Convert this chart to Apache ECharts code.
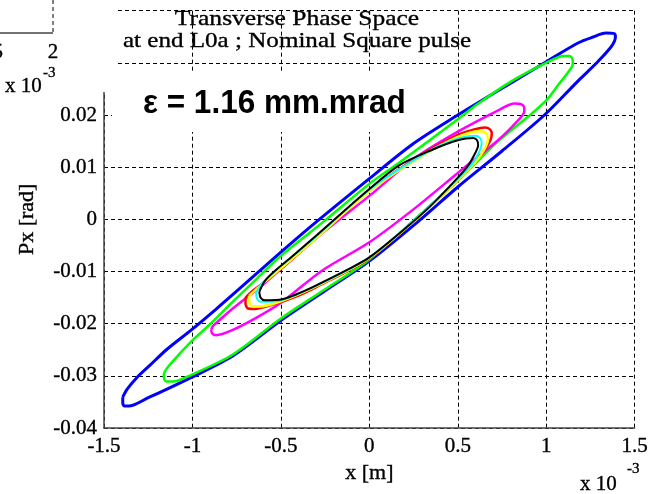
<!DOCTYPE html>
<html><head><meta charset="utf-8">
<script src="https://cdn.jsdelivr.net/npm/echarts@6/dist/echarts.min.js"></script>
<style>html,body{margin:0;padding:0;background:#fff}#c{width:651px;height:494px}</style>
</head><body><div id="c"></div>
<script>
// Axis ticks (x in units of 1e-3 m)
const xTicks = [-1.5, -1, -0.5, 0, 0.5, 1, 1.5];
const xTickLabels = ['-1.5', '-1', '-0.5', '0', '0.5', '1', '1.5'];
const yTicks = [-0.04, -0.03, -0.02, -0.01, 0, 0.01, 0.02, 0.03, 0.04];
const yTickLabels = ['-0.04', '-0.03', '-0.02', '-0.01', '0', '0.01', '0.02', '0.03', '0.04'];

// Closed phase-space contours [x (1e-3 m), Px (rad)]
const blueLoop = [[-1.394,-0.0341],[-1.394,-0.0352],[-1.385,-0.0358],[-1.36,-0.0358],[-1.25,-0.0342],[-1.147,-0.0326],[-1.006,-0.0303],[-0.772,-0.0262],[-0.5,-0.0194],[-0.25,-0.0137],[0,-0.008],[0.28,-0.0003],[0.5,0.0062],[0.75,0.0131],[0.99,0.0200],[1.179,0.0265],[1.291,0.0302],[1.365,0.0330],[1.385,0.0341],[1.391,0.0350],[1.385,0.0356],[1.338,0.0357],[1.26,0.0349],[1.179,0.0338],[1.0,0.0302],[0.804,0.0262],[0.616,0.0224],[0.5,0.0200],[0.244,0.0144],[0,0.0078],[-0.3,-0.0005],[-0.5,-0.0063],[-0.734,-0.0133],[-0.866,-0.0172],[-1.006,-0.0212],[-1.147,-0.025],[-1.241,-0.0280],[-1.316,-0.0304],[-1.37,-0.0326],[-1.394,-0.0341]];
const greenLoop = [[-1.162,-0.0296],[-1.16,-0.0306],[-1.145,-0.0311],[-1.11,-0.0311],[-1.006,-0.0298],[-0.772,-0.0259],[-0.5,-0.019],[-0.25,-0.0134],[0,-0.0077],[0.316,0.0018],[0.5,0.0074],[0.729,0.0150],[0.898,0.0197],[1.0,0.0228],[1.066,0.0257],[1.13,0.0285],[1.15,0.0298],[1.148,0.0308],[1.13,0.0313],[1.1,0.0313],[1.0,0.0300],[0.804,0.0265],[0.616,0.0222],[0.5,0.0192],[0.166,0.0108],[0,0.0068],[-0.25,-0.0002],[-0.5,-0.0070],[-0.64,-0.0115],[-0.772,-0.0158],[-0.903,-0.0202],[-1.006,-0.0234],[-1.1,-0.0268],[-1.145,-0.0286],[-1.162,-0.0296]];
const magentaLoop = [[-0.894,-0.0212],[-0.888,-0.0219],[-0.866,-0.0222],[-0.772,-0.0212],[-0.64,-0.0189],[-0.5,-0.016],[-0.266,-0.0098],[0,-0.0044],[0.26,0.0022],[0.5,0.0089],[0.729,0.0152],[0.85,0.0193],[0.876,0.0207],[0.874,0.0216],[0.855,0.0221],[0.82,0.0222],[0.729,0.0209],[0.5,0.0168],[0.26,0.0118],[0,0.0045],[-0.25,-0.0022],[-0.5,-0.0095],[-0.584,-0.0120],[-0.64,-0.0136],[-0.772,-0.0171],[-0.86,-0.0197],[-0.885,-0.0205],[-0.894,-0.0212]];
const redLoop = [[-0.70,-0.0150],[-0.70,-0.0162],[-0.685,-0.0171],[-0.65,-0.0172],[-0.55,-0.0164],[-0.4,-0.0146],[-0.3,-0.0130],[0,-0.0075],[0.3,0.0012],[0.5,0.0076],[0.6,0.0112],[0.655,0.0135],[0.685,0.0152],[0.692,0.0165],[0.68,0.0173],[0.654,0.0176],[0.58,0.0171],[0.5,0.0162],[0.3,0.0125],[0,0.0055],[-0.3,-0.0035],[-0.5,-0.0095],[-0.6,-0.0122],[-0.67,-0.0140],[-0.70,-0.0150]];
const yellowLoop = [[-0.68,-0.0147],[-0.678,-0.0159],[-0.665,-0.0166],[-0.62,-0.0167],[-0.5,-0.0157],[-0.3,-0.0128],[0,-0.0074],[0.3,0.0011],[0.5,0.0075],[0.6,0.0110],[0.65,0.0134],[0.67,0.0152],[0.665,0.0163],[0.645,0.0168],[0.62,0.0169],[0.5,0.0158],[0.3,0.0122],[0,0.0054],[-0.3,-0.0036],[-0.5,-0.0094],[-0.62,-0.0128],[-0.68,-0.0147]];
const cyanLoop = [[-0.64,-0.0141],[-0.635,-0.0152],[-0.615,-0.0158],[-0.5,-0.0155],[-0.3,-0.0127],[0,-0.0073],[0.3,0.0013],[0.5,0.0077],[0.58,0.0106],[0.622,0.0130],[0.635,0.0146],[0.625,0.0156],[0.6,0.0160],[0.5,0.0155],[0.35,0.0133],[0,0.0057],[-0.3,-0.0033],[-0.53,-0.0098],[-0.61,-0.0124],[-0.64,-0.0141]];
const blackLoop = [[-0.622,-0.0139],[-0.615,-0.0150],[-0.59,-0.0155],[-0.491,-0.0153],[-0.4,-0.0142],[-0.303,-0.0127],[-0.115,-0.0095],[0,-0.0073],[0.166,-0.0028],[0.335,0.0022],[0.5,0.0080],[0.56,0.0104],[0.6,0.0128],[0.615,0.0142],[0.608,0.0152],[0.588,0.0156],[0.504,0.0152],[0.353,0.0133],[0.166,0.0103],[0,0.0058],[-0.303,-0.0032],[-0.45,-0.0075],[-0.528,-0.0097],[-0.59,-0.0118],[-0.622,-0.0139]];

const seriesDefs = [
  {name:'blue', data: blueLoop, color:'#0000ff', width:3},
  {name:'green', data: greenLoop, color:'#00ff00', width:2.5},
  {name:'magenta', data: magentaLoop, color:'#ff00ff', width:2.5},
  {name:'red', data: redLoop, color:'#ff0000', width:2.5},
  {name:'yellow', data: yellowLoop, color:'#ffff00', width:2.5},
  {name:'cyan', data: cyanLoop, color:'#00ffff', width:2},
  {name:'black', data: blackLoop, color:'#000000', width:2}
];

const serif = 'Liberation Serif, Times New Roman, serif';
const chart = echarts.init(document.getElementById('c'), null, {renderer:'canvas'});
function lbl(ticks, labels){ return v => { const i = ticks.findIndex(t => Math.abs(t - v) < 1e-9); return i >= 0 ? labels[i] : ''; }; }
const txt = (text, x, y, size, align, extra) => Object.assign({
  type: 'text', x: x, y: y, z: 3,
  style: {text: text, font: size + 'px ' + serif, fill: '#000', stroke: '#000', lineWidth: 0.35,
          textAlign: align, textVerticalAlign: 'middle', align: align, verticalAlign: 'middle'}
}, extra || {});

chart.setOption({
  animation: false,
  backgroundColor: '#fff',
  grid: {left: 104, top: 7, width: 533, height: 421, containLabel: false},
  xAxis: {
    type: 'value', min: -1.5, max: 1.5, interval: 0.5,
    name: 'x [m]', nameLocation: 'middle', nameGap: 24,
    nameTextStyle: {fontFamily: serif, fontSize: 22, color: '#000', textBorderColor: '#000', textBorderWidth: 0.35},
    axisLine: {show: true, onZero: false, lineStyle: {color: '#444', width: 1.5}},
    axisTick: {show: false},
    axisLabel: {fontFamily: serif, fontSize: 21, color: '#000', margin: 8, textBorderColor: '#000', textBorderWidth: 0.35, formatter: lbl(xTicks, xTickLabels)},
    splitLine: {show: true, lineStyle: {color: '#000', width: 1, type: [4, 3]}}
  },
  yAxis: {
    type: 'value', min: -0.04, max: 0.04, interval: 0.01,
    name: 'Px [rad]', nameLocation: 'middle', nameGap: 66, nameRotate: 90,
    nameTextStyle: {fontFamily: serif, fontSize: 22, color: '#000', textBorderColor: '#000', textBorderWidth: 0.35},
    axisLine: {show: true, onZero: false, lineStyle: {color: '#444', width: 1.5}},
    axisTick: {show: false},
    axisLabel: {fontFamily: serif, fontSize: 21, color: '#000', margin: 7, textBorderColor: '#000', textBorderWidth: 0.35, formatter: lbl(yTicks, yTickLabels)},
    splitLine: {show: true, lineStyle: {color: '#000', width: 1, type: [4, 3]}}
  },
  series: seriesDefs.map((s, i) => ({
    type: 'line', name: s.name, data: s.data, showSymbol: false, symbol: 'none',
    smooth: 0.3, z: 2 + i * 0.01,
    lineStyle: {color: s.color, width: s.width}, silent: true
  })),
  graphic: [
    {type:'rect', shape:{x:0, y:0, width:117, height:92}, style:{fill:'#fff'}, z: 1},
    {type:'rect', shape:{x:112, y:72, width:322, height:60}, style:{fill:'#fff'}, z: 1},
    // fragment of neighbouring plot (top-left)
    {type:'line', shape:{x1:0, y1:33, x2:53, y2:33}, style:{stroke:'#444', lineWidth:1.5}, z: 3},
    {type:'line', shape:{x1:53, y1:0, x2:53, y2:33}, style:{stroke:'#000', lineWidth:1, lineDash:[4,3]}, z: 3},
    txt('1.5', 3, 52, 21, 'right'),
    txt('2', 53, 52, 21, 'center'),
    txt('x 10', 5, 86, 21, 'left'),
    txt('-3', 43, 73, 15, 'left'),
    // title
    txt('Transverse Phase Space', 297, 19, 22, 'center', {scaleX: 1.16}),
    txt('at end L0a ; Nominal Square pulse', 297, 41, 22, 'center', {scaleX: 1.14}),
    // emittance annotation
    {type:'text', x: 143, y: 104, scaleX: 0.955, style:{text:'ε = 1.16 mm.mrad', font:'bold 33px Liberation Sans, Arial, sans-serif', fill:'#000', textAlign:'left', textVerticalAlign:'middle', align:'left', verticalAlign:'middle'}, z: 3},
    // x-axis exponent
    txt('x 10', 580, 484, 21, 'left'),
    txt('-3', 627, 469, 15, 'left')
  ]
});
</script></body></html>
